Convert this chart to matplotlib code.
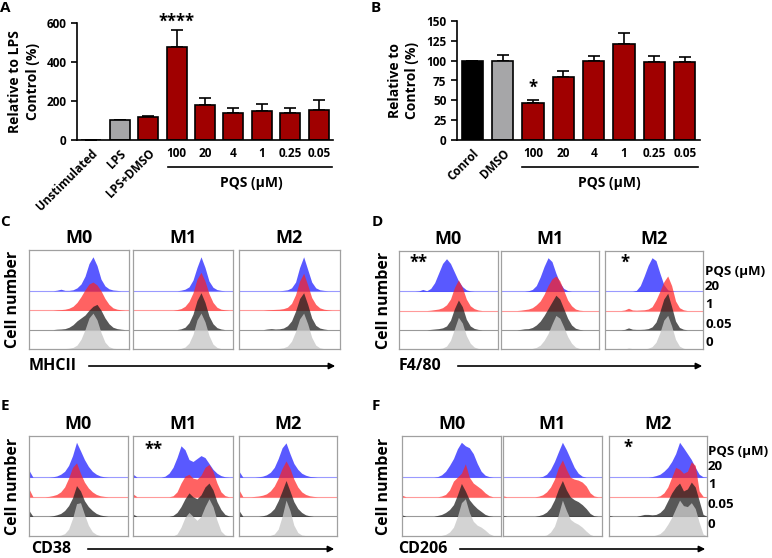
import numpy as np
import matplotlib
matplotlib.use('Agg')
import matplotlib.pyplot as plt
from matplotlib.lines import Line2D
from matplotlib.patches import FancyArrowPatch

plt.rcParams['font.family'] = ['Open Sans', 'DejaVu Sans']
plt.rcParams['font.weight'] = 'bold'

W, H = 772, 558

# ---- panel A: relative to LPS control ----
a_labels = ['Unstimulated', 'LPS', 'LPS+DMSO', '100', '20', '4', '1', '0.25', '0.05']
a_values = [0, 100, 118, 475, 178, 137, 151, 141, 154]
a_errors = [0, 0, 5, 87, 36, 29, 34, 22, 52]
a_colors = ['white', '#a6a6a8', '#a00000', '#a00000', '#a00000', '#a00000',
            '#a00000', '#a00000', '#a00000']

# ---- panel B: relative to control ----
b_labels = ['Conrol', 'DMSO', '100', '20', '4', '1', '0.25', '0.05']
b_values = [100, 100, 47, 80, 99, 121, 98, 98]
b_errors = [0, 7, 4, 6.5, 7, 14, 8, 7]
b_colors = ['black', '#a6a6a8', '#a00000', '#a00000', '#a00000', '#a00000',
            '#a00000', '#a00000']

# ---- flow histograms: rows are PQS 0, 0.05, 1, 20 uM ----
hist_x = np.arange(0, 101, 4)
columns = ['M0', 'M1', 'M2']
pqs_rows = ['0', '0.05', '1', '20']

mhcii_m0 = [[0] * 9 + [.02, .04, .08, .2, .5, 1.0, 1.6, 1.85, 1.5, .85, .35, .12, .04, .02, 0],
            [0] * 7 + [.02, .03, .05, .12, .25, .45, .6, .75, 1.0, 1.2, 1.3, 1.0, .6, .3, .12, .05, .02, 0],
            [0] * 7 + [.02, .03, .05, .1, .2, .4, .7, 1.05, 1.35, 1.45, 1.3, 1.0, .6, .3, .12, .05, .02, 0],
            [0] * 7 + [.03, .08, .02, .02, .05, .15, .35, .75, 1.4, 1.75, 1.3, .6, .25, .1, .04, .02, 0]]
mhcii_m1 = [[0] * 12 + [.03, .1, .3, .75, 1.5, 1.85, 1.4, .7, .25, .08, .02, 0],
            [0] * 12 + [.04, .12, .35, .8, 1.5, 1.9, 1.4, .7, .3, .1, .03, 0],
            [0] * 11 + [.03, .08, .2, .45, .9, 1.6, 1.95, 1.5, .85, .4, .15, .05, .02, 0],
            [0] * 12 + [.03, .08, .2, .55, 1.2, 1.75, 1.2, .5, .18, .06, .02, 0]]
mhcii_m2 = [[0] * 9 + [.02, .03, .06, .15, .4, .9, 1.55, 1.85, 1.3, .6, .2, .06, .02, 0],
            [0] * 7 + [.03, .05, .03, .04, .08, .2, .45, .95, 1.6, 1.9, 1.3, .6, .22, .08, .03, 0],
            [0] * 7 + [.02, .03, .04, .05, .08, .15, .35, .8, 1.5, 1.9, 1.3, .65, .3, .12, .05, .02, 0],
            [0] * 11 + [.02, .05, .15, .45, 1.2, 1.75, 1.1, .45, .15, .05, .02, 0]]

f480_m0 = [[0] * 10 + [.02, .05, .15, .45, 1.05, 1.65, 1.35, .7, .3, .1, .03, 0],
           [0] * 8 + [.02, .04, .06, .1, .2, .5, 1.1, 1.55, 1.2, .55, .2, .07, .02, 0],
           [0] * 8 + [.02, .05, .08, .15, .3, .6, 1.2, 1.6, 1.2, .6, .25, .1, .03, 0],
           [0] * 5 + [.02, .1, .03, .15, .45, .95, 1.45, 1.7, 1.45, 1.0, .55, .25, .08, .02, 0]]
f480_m1 = [[0] * 8 + [.03, .08, .2, .45, .8, 1.3, 1.75, 1.6, 1.15, .65, .3, .1, .03, 0],
           [0] * 5 + [.02, .05, .06, .12, .25, .45, .75, 1.1, 1.45, 1.8, 1.6, 1.1, .6, .25, .08, .02, 0],
           [0] * 5 + [.02, .05, .08, .15, .3, .5, .85, 1.3, 1.65, 1.8, 1.55, 1.05, .55, .25, .08, .02, 0],
           [0] * 7 + [.03, .1, .3, .75, 1.3, 1.75, 1.55, .95, .45, .15, .04, 0]]
f480_m2 = [[0] * 6 + [.05, .02, 0, 0, 0, .04, .12, .35, .85, 1.5, 1.75, 1.2, .5, .15, .04, 0],
           [0] * 5 + [.02, .1, .03, .02, .02, .03, .06, .15, .4, .95, 1.6, 1.9, 1.2, .45, .12, .03, 0],
           [0] * 5 + [.03, .12, .03, .02, .03, .04, .08, .2, .55, 1.0, 1.5, 1.8, 1.3, .5, .15, .04, 0],
           [0] * 8 + [.05, .3, .8, 1.35, 1.75, 1.6, .95, .35, .08, .02, 0]]

cd38_m0 = [[0] * 8 + [.04, .12, .35, .9, 1.65, 1.7, 1.1, .55, .22, .08, .02, 0],
           [.3] + [0] * 5 + [.03, .08, .15, .3, .55, .95, 1.57, 1.3, .8, .5, .3, .15, .07, .03, 0],
           [.4] + [0] * 4 + [.02, .06, .12, .25, .5, .95, 1.5, 1.73, 1.2, .75, .45, .25, .12, .05, .02, 0],
           [.35] + [0] * 5 + [.02, .06, .15, .3, .6, 1.1, 1.78, 1.35, .9, .55, .3, .15, .06, .02, 0]]
cd38_m1 = [[0] * 11 + [.1, .45, .95, 1.2, 1.0, .8, 1.0, 1.5, 1.9, 1.5, .8, .25, .05, 0],
           [.12] + [0] * 9 + [.05, .2, .5, .9, 1.2, 1.0, .9, 1.1, 1.5, 1.7, 1.35, .75, .35, .1, .02, 0],
           [.15] + [0] * 9 + [.05, .25, .7, 1.05, 1.15, .95, .9, 1.1, 1.5, 1.65, 1.3, .7, .25, .06, 0],
           [.15] + [0] * 7 + [.05, .2, .5, 1.0, 1.6, 1.4, .9, .8, .95, 1.1, 1.0, .7, .4, .2, .08, .02, 0]]
cd38_m2 = [[0] * 8 + [.03, .1, .35, 1.0, 1.83, 1.3, .55, .18, .05, .02, 0],
           [.3] + [0] * 5 + [.03, .08, .2, .4, .8, 1.3, 1.83, 1.3, .75, .4, .2, .08, .03, 0],
           [.35] + [0] * 3 + [.02, .04, .08, .15, .3, .55, .95, 1.45, 1.83, 1.45, .9, .5, .25, .12, .05, .02, 0],
           [.3] + [0] * 4 + [.02, .05, .12, .25, .5, .95, 1.5, 1.75, 1.2, .7, .4, .2, .1, .04, .02, 0]]

cd206_m0 = [[0] * 10 + [.03, .08, .2, .45, 1.0, 1.7, 1.9, 1.2, .75, .55, .45, .3, .12, .03, 0],
            [.08] + [0] * 8 + [.05, .1, .2, .35, .6, 1.1, 1.68, 1.3, .85, .6, .4, .25, .1, .03, 0],
            [.08] + [0] * 9 + [.04, .12, .35, .8, 1.0, 1.2, 1.68, 1.0, .7, .55, .4, .2, .06, 0],
            [0] * 9 + [.03, .12, .3, .6, .95, 1.45, 1.78, 1.6, 1.5, 1.2, .7, .3, .1, .03, 0]]
cd206_m1 = [[0] * 11 + [.05, .2, .5, 1.1, 1.83, 1.3, .85, .7, .6, .45, .25, .08, 0],
            [.05] + [0] * 8 + [.04, .1, .22, .45, .85, 1.4, 1.83, 1.35, 1.0, .85, .75, .6, .4, .15, .03, 0],
            [.05] + [0] * 8 + [.03, .1, .25, .5, .9, 1.5, 1.88, 1.4, 1.0, .9, .85, .75, .55, .2, .04, 0],
            [0] * 10 + [.04, .15, .4, .8, 1.3, 1.78, 1.4, .95, .5, .2, .05, 0]]
cd206_m2 = [[0] * 12 + [.05, .12, .3, .6, .95, 1.4, 1.83, 1.55, 1.5, 1.7, 1.4, .7, .1, 0],
            [.05] + [0] * 7 + [.05, .1, .1, .08, .1, .2, .4, .8, 1.2, 1.5, 1.7, 1.3, 1.4, 1.75, 1.5, .8, .1, 0],
            [0] * 13 + [.05, .2, .5, 1.0, 1.5, 1.4, 1.2, 1.3, 1.78, 1.6, .3, .02, 0],
            [0] * 11 + [.03, .08, .15, .3, .5, .8, 1.2, 1.78, 1.5, 1.2, .9, .5, .15, .02, 0]]

fill_colors = ['#c8c8c8', '#202020', '#ff2020', '#3030ff']
fill_alpha = [0.8, 0.75, 0.7, 0.8]
line_colors = ['#999999', '#999999', '#ff9a9a', '#9a9aff']


def fx(x):
    return x / W


def fy(y):
    return 1 - y / H


def rect(x0, y0, x1, y1):
    return [x0 / W, 1 - y1 / H, (x1 - x0) / W, (y1 - y0) / H]


fig = plt.figure(figsize=(W / 100, H / 100), dpi=100)


def bar_panel(r, labels, values, errors, colors, ymax, yticks, ylabel, n_rot):
    ax = fig.add_axes(r)
    x = np.arange(len(labels))
    ax.bar(x, values, width=0.7, color=colors, edgecolor='black', linewidth=1.2, zorder=2)
    ax.errorbar(x, values, yerr=[np.zeros(len(errors)), errors], fmt='none',
                ecolor='black', elinewidth=1.2, capsize=4, capthick=1.2, zorder=1)
    ax.set_xlim(-0.5, len(labels) - 0.5)
    ax.set_ylim(0, ymax)
    ax.set_yticks(yticks)
    ax.set_xticks(x)
    ax.set_xticklabels(labels, fontsize=8.5)
    for i, lab in enumerate(ax.get_xticklabels()):
        if i < n_rot:
            lab.set_rotation(45)
            lab.set_ha('right')
            lab.set_rotation_mode('anchor')
    ax.tick_params(axis='x', length=0, pad=5)
    ax.tick_params(axis='y', length=4, width=1.2, labelsize=8.5)
    for s in ['top', 'right']:
        ax.spines[s].set_visible(False)
    for s in ['left', 'bottom']:
        ax.spines[s].set_linewidth(1.2)
    ax.set_ylabel(ylabel, fontsize=10, fontweight='bold', labelpad=5, linespacing=1.3)
    return ax


axA = bar_panel(rect(77, 23, 333, 140), a_labels, a_values, a_errors, a_colors,
                600, [0, 200, 400, 600], 'Relative to LPS\nControl (%)', 3)
axA.text(3, 560, '****', ha='center', va='bottom', fontsize=12)

axB = bar_panel(rect(457, 21, 700, 140), b_labels, b_values, b_errors, b_colors,
                150, [0, 25, 50, 75, 100, 125, 150], 'Relative to\nControl (%)', 2)
axB.text(2, 54, '*', ha='center', va='bottom', fontsize=12)

# PQS brackets
for x0, x1, xc in [(168, 332, 251), (522, 698, 609)]:
    fig.add_artist(Line2D([fx(x0), fx(x1)], [fy(167), fy(167)], color='black', lw=1.2))
    fig.text(fx(xc), fy(183), 'PQS (µM)', ha='center', va='center', fontsize=10)


def hist_panel(boxes, top, bottom, data, marker, ylab_x, row_labels=None):
    for (x0, x1), curves, name in zip(boxes, data, columns):
        ax = fig.add_axes(rect(x0, top, x1, bottom))
        for r in [3, 2, 1, 0]:
            h = np.array(curves[r])
            xs = hist_x[:len(h)]
            if r > 0:
                ax.axhline(r, color=line_colors[r], lw=0.8, zorder=1)
            ax.fill_between(xs, r, r + h, color=fill_colors[r], alpha=fill_alpha[r],
                            lw=0, zorder=2)
        ax.set_xlim(0, 100)
        ax.set_ylim(0, 5.1)
        ax.set_xticks([])
        ax.set_yticks([])
        for s in ax.spines.values():
            s.set_color('#a0a0a0')
            s.set_linewidth(0.9)
        ax.set_title(name, fontsize=13, fontweight='bold', pad=5)
    mid = (top + bottom) / 2
    fig.text(fx(ylab_x), fy(mid), 'Cell number', rotation=90, ha='center', va='center',
             fontsize=11.5)
    name, tx, ay, a0, a1 = marker
    fig.text(fx(tx), fy(ay), name, ha='left', va='center', fontsize=11.5)
    fig.add_artist(FancyArrowPatch((fx(a0), fy(ay)), (fx(a1), fy(ay)),
                                   transform=fig.transFigure, arrowstyle='-|>',
                                   mutation_scale=9, lw=1.2, color='black'))
    if row_labels is not None:
        lx, ys = row_labels
        texts = ['PQS (µM)', '20', '1', '0.05', '0']
        for t, yy in zip(texts, ys):
            fig.text(fx(lx), fy(yy), t, ha='left', va='center', fontsize=9.5)


hist_panel([(29, 129), (133, 233), (239, 340)], 250, 349,
           [mhcii_m0, mhcii_m1, mhcii_m2], ('MHCII', 29, 366, 86, 338), 13)
hist_panel([(399, 498), (501, 599), (605, 703)], 251, 349,
           [f480_m0, f480_m1, f480_m2], ('F4/80', 399, 366, 455, 705), 384,
           (705, [272, 287, 305, 324, 343]))
hist_panel([(29, 128), (133, 233), (239, 337)], 436, 536,
           [cd38_m0, cd38_m1, cd38_m2], ('CD38', 31, 549, 85, 337), 13)
hist_panel([(402, 501), (503, 602), (609, 707)], 436, 536,
           [cd206_m0, cd206_m1, cd206_m2], ('CD206', 398, 549, 457, 708), 384,
           (708, [451, 467, 485, 505, 525]))

# significance marks on histograms
for t, x, y in [('**', 418, 263), ('*', 625, 263), ('**', 153, 450), ('*', 628, 448)]:
    fig.text(fx(x), fy(y), t, ha='center', va='center', fontsize=12)

# panel letters
for t, x, y in [('A', 5, 8), ('B', 376, 8), ('C', 5, 222), ('D', 377, 222),
                ('E', 5, 406), ('F', 376, 406)]:
    fig.text(fx(x), fy(y), t, ha='center', va='center', fontsize=11)

fig.savefig('out.png', dpi=100)
